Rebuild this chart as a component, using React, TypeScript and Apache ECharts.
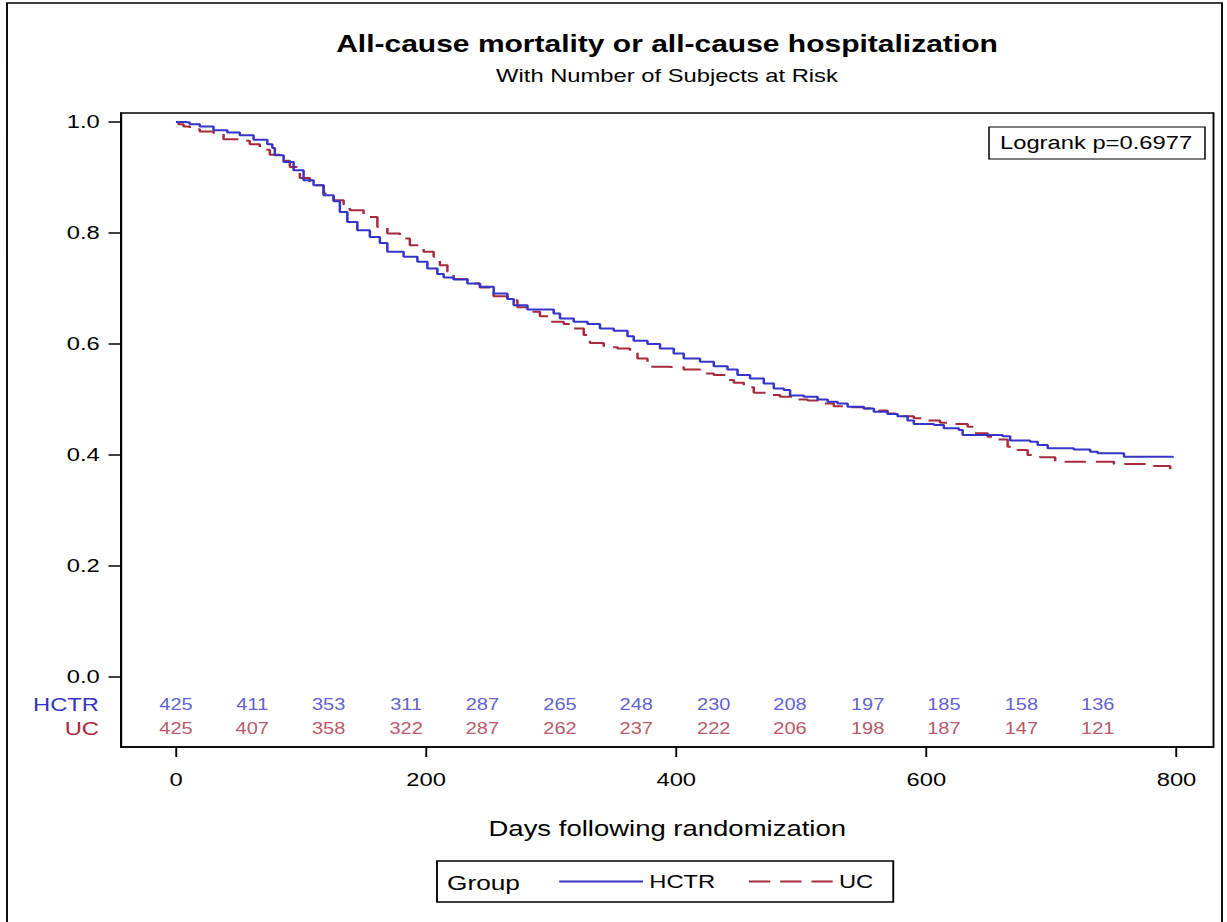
import React, { useEffect, useRef } from "react";
import * as echarts from "echarts";

// ---- data ----
const hctrDays = [0, 7, 11, 19, 30, 41, 51, 62, 73, 77, 79, 86, 94, 102, 110, 118, 126, 131, 137, 145, 155, 163, 169, 182, 193, 201, 209, 214, 222, 233, 243, 254, 265, 270, 281, 302, 307, 318, 329, 339, 350, 361, 366, 377, 387, 398, 406, 419, 430, 441, 449, 459, 470, 478, 486, 491, 502, 513, 521, 529, 537, 550, 558, 569, 577, 585, 590, 606, 614, 626, 629, 661, 667, 683, 689, 697, 718, 731, 737, 758, 797];
const hctrSurv = [1.0, 0.999, 0.996, 0.992, 0.985, 0.981, 0.976, 0.968, 0.96, 0.953, 0.94, 0.928, 0.913, 0.895, 0.886, 0.868, 0.857, 0.838, 0.82, 0.805, 0.793, 0.782, 0.766, 0.757, 0.748, 0.736, 0.726, 0.72, 0.716, 0.709, 0.703, 0.691, 0.681, 0.67, 0.662, 0.655, 0.646, 0.64, 0.636, 0.628, 0.624, 0.614, 0.606, 0.6, 0.592, 0.583, 0.574, 0.568, 0.56, 0.554, 0.544, 0.538, 0.529, 0.52, 0.517, 0.507, 0.505, 0.5, 0.496, 0.493, 0.487, 0.484, 0.478, 0.474, 0.47, 0.462, 0.456, 0.454, 0.448, 0.445, 0.436, 0.434, 0.426, 0.424, 0.418, 0.412, 0.41, 0.406, 0.403, 0.397, 0.395];

const ucDays = [0, 2, 6, 11, 19, 30, 38, 51, 59, 67, 75, 83, 91, 99, 107, 118, 126, 134, 139, 150, 161, 169, 179, 187, 198, 206, 211, 217, 222, 233, 243, 254, 265, 273, 281, 291, 299, 310, 318, 326, 331, 342, 353, 363, 369, 377, 393, 406, 419, 430, 441, 446, 454, 462, 473, 483, 494, 505, 515, 526, 537, 550, 558, 569, 579, 590, 601, 611, 619, 633, 638, 649, 657, 665, 673, 681, 691, 703, 739, 750, 782, 795];
const ucSurv = [1.0, 0.996, 0.992, 0.987, 0.983, 0.98, 0.969, 0.966, 0.96, 0.95, 0.941, 0.93, 0.919, 0.899, 0.886, 0.871, 0.859, 0.852, 0.841, 0.829, 0.811, 0.799, 0.79, 0.778, 0.766, 0.757, 0.742, 0.73, 0.717, 0.709, 0.702, 0.686, 0.679, 0.666, 0.658, 0.65, 0.64, 0.636, 0.628, 0.616, 0.602, 0.594, 0.592, 0.584, 0.574, 0.559, 0.558, 0.554, 0.547, 0.544, 0.535, 0.53, 0.522, 0.512, 0.508, 0.505, 0.5, 0.498, 0.493, 0.488, 0.486, 0.484, 0.48, 0.475, 0.47, 0.466, 0.462, 0.458, 0.456, 0.451, 0.439, 0.433, 0.428, 0.415, 0.409, 0.4, 0.396, 0.388, 0.388, 0.384, 0.38, 0.373];

const riskTimes = [0, 61, 122, 184, 245, 307, 368, 430, 491, 553, 614, 676, 737];
const riskHCTR = [425, 411, 353, 311, 287, 265, 248, 230, 208, 197, 185, 158, 136];
const riskUC = [425, 407, 358, 322, 287, 262, 237, 222, 206, 198, 187, 147, 121];

const yTicks = [0, 0.2, 0.4, 0.6, 0.8, 1.0];
const xTicks = [0, 200, 400, 600, 800];

const groups = ["HCTR", "UC"];
const titleText = "All-cause mortality or all-cause hospitalization";
const subtitleText = "With Number of Subjects at Risk";
const xAxisTitle = "Days following randomization";
const logrankText = "Logrank p=0.6977";
const legendTitle = "Group";

// ---- styling / layout ----
const SX = 1.25; // reference is horizontally stretched
const W = 1227 / SX;
const H = 922;
const BLUE = "#3434c8";
const RED = "#a62a3c";
const FONT = "'Liberation Sans', Arial, Helvetica, sans-serif";
const ROW_HCTR = -0.0505;
const ROW_UC = -0.0937;

export default function App() {
  const ref = useRef<HTMLDivElement>(null);
  useEffect(() => {
    if (!ref.current) return;
    const chart = echarts.init(ref.current, undefined, { renderer: "svg" });
    const pairs = (d: number[], s: number[]) => d.map((x, i) => [x, s[i]]);
    const riskLabel = (color: string) => ({
      show: true,
      position: "inside",
      formatter: (p: any) => String(p.value[2]),
      color,
      fontSize: 16,
      fontFamily: FONT,
    });
    const option: any = {
      animation: false,
      backgroundColor: "#fff",
      textStyle: { fontFamily: FONT, color: "#000" },
      title: {
        text: titleText,
        subtext: subtitleText,
        left: 533.6,
        top: 32,
        textAlign: "center",
        padding: 0,
        itemGap: 10,
        textStyle: { fontFamily: FONT, fontSize: 24, fontWeight: "bold", color: "#000" },
        subtextStyle: { fontFamily: FONT, fontSize: 19, color: "#000" },
      },
      grid: {
        left: 96.8,
        right: W - 970.4,
        top: 113,
        bottom: H - 747,
        show: true,
        borderColor: "#000",
        borderWidth: 1.5,
        backgroundColor: "transparent",
      },
      xAxis: {
        type: "value",
        min: -44,
        max: 829.6,
        name: xAxisTitle,
        nameLocation: "middle",
        nameGap: 70,
        nameTextStyle: { fontFamily: FONT, fontSize: 22, color: "#000" },
        axisLine: { show: true, onZero: false, lineStyle: { color: "#000", width: 1.5 } },
        axisTick: { show: true, length: 10, customValues: xTicks, lineStyle: { color: "#000", width: 1.5 } },
        axisLabel: { customValues: xTicks, margin: 23, fontSize: 19, color: "#000", fontFamily: FONT },
        splitLine: { show: false },
      },
      yAxis: {
        type: "value",
        min: -0.1261,
        max: 1.0162,
        axisLine: { show: true, onZero: false, lineStyle: { color: "#000", width: 1.5 } },
        axisTick: { show: true, length: 10, customValues: yTicks, lineStyle: { color: "#000", width: 1.5 } },
        axisLabel: {
          customValues: yTicks,
          margin: 17,
          fontSize: 19,
          color: "#000",
          fontFamily: FONT,
          formatter: (v: number) => v.toFixed(1),
        },
        splitLine: { show: false },
      },
      legend: {
        data: groups,
        left: 349.6,
        top: 861,
        orient: "horizontal",
        padding: [11, 16, 11, 96.8],
        borderColor: "#000",
        borderWidth: 1.5,
        itemWidth: 67,
        itemHeight: 14,
        itemGap: 26,
        itemStyle: { opacity: 0 },
        textStyle: { fontSize: 19, color: "#000", fontFamily: FONT },
      },
      series: [
        {
          name: groups[0],
          type: "line",
          step: "end",
          data: pairs(hctrDays, hctrSurv),
          showSymbol: false,
          symbol: "none",
          lineStyle: { color: BLUE, width: 2 },
          itemStyle: { color: BLUE },
          z: 3,
        },
        {
          name: groups[1],
          type: "line",
          step: "end",
          data: pairs(ucDays, ucSurv),
          showSymbol: false,
          symbol: "none",
          lineStyle: { color: RED, width: 2, type: [17, 8] },
          itemStyle: { color: RED },
          z: 2,
        },
        {
          name: "HCTR at risk",
          type: "scatter",
          data: riskTimes.map((t, i) => [t, ROW_HCTR, riskHCTR[i]]),
          symbolSize: 1,
          itemStyle: { color: "rgba(0,0,0,0)" },
          silent: true,
          label: riskLabel(BLUE),
        },
        {
          name: "UC at risk",
          type: "scatter",
          data: riskTimes.map((t, i) => [t, ROW_UC, riskUC[i]]),
          symbolSize: 1,
          itemStyle: { color: "rgba(0,0,0,0)" },
          silent: true,
          label: riskLabel(RED),
        },
      ],
      graphic: [
        {
          type: "rect",
          shape: { x: 5.6, y: 3, width: 972, height: 960 },
          style: { fill: "none", stroke: "#000", lineWidth: 1.5 },
          silent: true,
        },
        {
          type: "rect",
          shape: { x: 791.2, y: 127, width: 172.8, height: 32 },
          style: { fill: "#fff", stroke: "#000", lineWidth: 1.2 },
          z: 10,
        },
        {
          type: "text",
          x: 800,
          y: 143,
          z: 11,
          style: { text: logrankText, fontSize: 19, fontFamily: FONT, fill: "#000", verticalAlign: "middle", align: "left" },
        },
        {
          type: "text",
          x: 79.2,
          y: 705,
          style: { text: groups[0], fontSize: 19, fontFamily: FONT, fill: BLUE, align: "right", verticalAlign: "middle" },
        },
        {
          type: "text",
          x: 79.2,
          y: 729,
          style: { text: groups[1], fontSize: 19, fontFamily: FONT, fill: RED, align: "right", verticalAlign: "middle" },
        },
        {
          type: "text",
          x: 357.6,
          y: 882,
          z: 20,
          style: { text: legendTitle, fontSize: 21, fontFamily: FONT, fill: "#000", align: "left", verticalAlign: "middle" },
        },
      ],
    };
    chart.setOption(option);
    return () => chart.dispose();
  }, []);
  return (
    <div
      ref={ref}
      style={{
        position: "fixed",
        left: 0,
        top: 0,
        width: W + "px",
        height: H + "px",
        transform: `scaleX(${SX})`,
        transformOrigin: "0 0",
        background: "#fff",
      }}
    />
  );
}
